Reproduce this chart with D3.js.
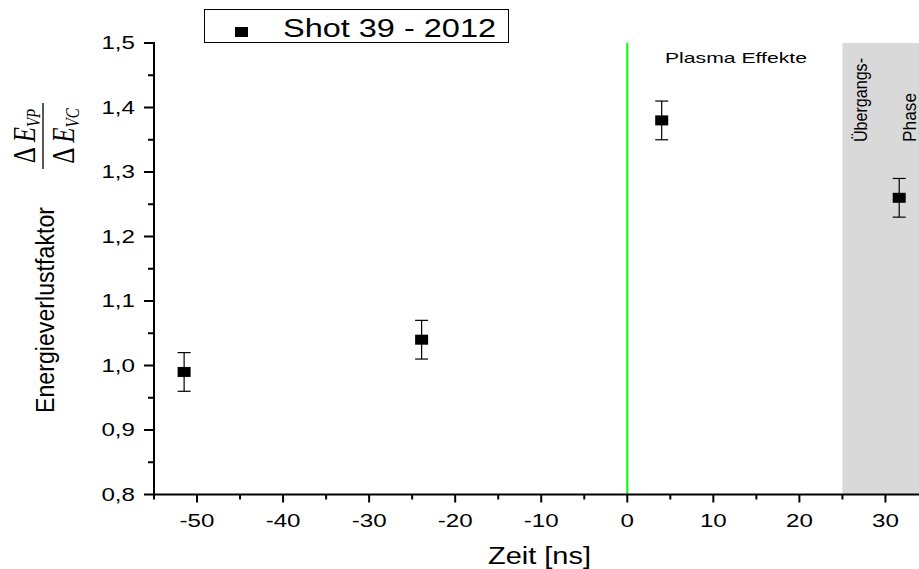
<!DOCTYPE html>
<html><head><meta charset="utf-8">
<script src="https://cdn.jsdelivr.net/npm/d3@7/dist/d3.min.js"></script>
<style>body{margin:0;background:#fff}svg{display:block}</style>
</head><body>
<svg id="c" width="919" height="569"></svg>
<script>
const times = [-51.5, -23.9, 4.0, 31.6];
const values = [0.99, 1.04, 1.38, 1.26];
const errors = [0.03, 0.03, 0.03, 0.03];
const xTicks = [-50, -40, -30, -20, -10, 0, 10, 20, 30];
const xMinorTicks = [-55, -45, -35, -25, -15, -5, 5, 15, 25];
const yTicks = [0.8, 0.9, 1.0, 1.1, 1.2, 1.3, 1.4, 1.5];
const yMinorTicks = [0.85, 0.95, 1.05, 1.15, 1.25, 1.35, 1.45];
const seriesName = "Shot 39 - 2012";
const phaseStart = 25;

const svg = d3.select("#c");
const x = d3.scaleLinear().domain([-55, 33.9]).range([154, 919]);
const y = d3.scaleLinear().domain([0.8, 1.5]).range([494.5, 43]);
const font = "Liberation Sans, Arial, sans-serif";
const SX = 1.38;

// gray phase region
svg.append("rect").attr("x", x(phaseStart)).attr("y", y(1.5))
  .attr("width", x(33.9) - x(phaseStart)).attr("height", y(0.8) - y(1.5))
  .attr("fill", "#d9d9d9");

// green line at 0
svg.append("rect").attr("x", x(0) - 1).attr("y", y(1.5)).attr("width", 2).attr("height", y(0.8) - y(1.5))
  .attr("fill", "#00ff00");

// axes as filled rects
const x0 = x(-55), yb = y(0.8);
const tk = svg.append("g").attr("fill", "#000");
tk.append("rect").attr("x", x0 - 1).attr("y", y(1.5) - 1).attr("width", 2).attr("height", yb - y(1.5) + 2);
tk.append("rect").attr("x", x0 - 1).attr("y", yb - 1).attr("width", 919 - x0 + 1).attr("height", 2);
tk.selectAll(".xt").data(xTicks).join("rect").attr("class", "xt")
  .attr("x", d => x(d) - 1).attr("y", yb).attr("width", 2).attr("height", 8);
tk.selectAll(".xm").data(xMinorTicks).join("rect").attr("class", "xm")
  .attr("x", d => x(d) - 1).attr("y", yb).attr("width", 2).attr("height", 5);
tk.selectAll(".yt").data(yTicks).join("rect").attr("class", "yt")
  .attr("x", x0 - 10).attr("y", d => y(d) - 1).attr("width", 10).attr("height", 2);
tk.selectAll(".ym").data(yMinorTicks).join("rect").attr("class", "ym")
  .attr("x", x0 - 6).attr("y", d => y(d) - 1).attr("width", 6).attr("height", 2);

svg.append("g").selectAll("text").data(xTicks).join("text")
  .attr("transform", d => `translate(${x(d)},527) scale(${SX},1)`)
  .attr("text-anchor", "middle").attr("font-family", font).attr("font-size", 17.5).attr("fill", "#000")
  .text(d => d < 0 ? "-" + Math.abs(d) : String(d));
svg.append("g").selectAll("text").data(yTicks).join("text")
  .attr("transform", d => `translate(135,${y(d) + 6}) scale(${SX},1)`)
  .attr("text-anchor", "end").attr("font-family", font).attr("font-size", 17.5).attr("fill", "#000")
  .text(d => d3.format(".1f")(d).replace(".", ","));

// error bars
const pts = times.map((t, i) => ({t, v: values[i], e: errors[i]}));
const eb = svg.append("g").attr("stroke", "#000").attr("stroke-width", 1.2);
eb.selectAll(".v").data(pts).join("line").attr("class", "v")
  .attr("x1", d => x(d.t)).attr("x2", d => x(d.t)).attr("y1", d => y(d.v - d.e)).attr("y2", d => y(d.v + d.e));
eb.selectAll(".t").data(pts).join("line").attr("class", "t")
  .attr("x1", d => x(d.t) - 6.5).attr("x2", d => x(d.t) + 6.5).attr("y1", d => y(d.v + d.e)).attr("y2", d => y(d.v + d.e));
eb.selectAll(".b").data(pts).join("line").attr("class", "b")
  .attr("x1", d => x(d.t) - 6.5).attr("x2", d => x(d.t) + 6.5).attr("y1", d => y(d.v - d.e)).attr("y2", d => y(d.v - d.e));
svg.append("g").selectAll("rect").data(pts).join("rect")
  .attr("x", d => x(d.t) - 6.5).attr("y", d => y(d.v) - 5).attr("width", 13).attr("height", 10).attr("fill", "#000");

// legend
svg.append("rect").attr("x", 204.5).attr("y", 9.5).attr("width", 304).attr("height", 33)
  .attr("fill", "#fff").attr("stroke", "#000").attr("stroke-width", 1);
svg.append("rect").attr("x", 235).attr("y", 27).attr("width", 13).attr("height", 10).attr("fill", "#000");
svg.append("text").attr("x", 283).attr("y", 37).attr("font-family", font).attr("font-size", 25)
  .attr("textLength", 213).attr("lengthAdjust", "spacingAndGlyphs")
  .attr("fill", "#000").text(seriesName);

// annotations
svg.append("text").attr("x", 665).attr("y", 63).attr("font-family", font).attr("font-size", 15)
  .attr("textLength", 142).attr("lengthAdjust", "spacingAndGlyphs")
  .attr("fill", "#000").text("Plasma Effekte");
svg.append("text").attr("transform", "translate(867,142) scale(1.2,1) rotate(-90)").attr("font-family", font)
  .attr("font-size", 16).attr("textLength", 84).attr("lengthAdjust", "spacingAndGlyphs")
  .attr("fill", "#000").text("Übergangs-");
svg.append("text").attr("transform", "translate(916,142) scale(1.2,1) rotate(-90)").attr("font-family", font)
  .attr("font-size", 16).attr("textLength", 49).attr("lengthAdjust", "spacingAndGlyphs")
  .attr("fill", "#000").text("Phase");

// axis titles
svg.append("text").attr("x", 488).attr("y", 564).attr("font-family", font)
  .attr("font-size", 23).attr("textLength", 103).attr("lengthAdjust", "spacingAndGlyphs")
  .attr("fill", "#000").text("Zeit [ns]");
svg.append("text").attr("transform", `translate(54,310) scale(1.3,1) rotate(-90)`).attr("font-family", font)
  .attr("font-size", 20).attr("textLength", 206).attr("lengthAdjust", "spacingAndGlyphs")
  .attr("fill", "#000").attr("text-anchor", "middle").text("Energieverlustfaktor");

// fraction label
const serif = "Liberation Serif, Times New Roman, serif";
const frac = svg.append("g").attr("transform", `translate(43,136) scale(1.3,1) rotate(-90)`);
frac.append("line").attr("x1", -33).attr("x2", 33).attr("y1", 0).attr("y2", 0).attr("stroke", "#000").attr("stroke-width", 1);
const num = frac.append("text").attr("x", 0).attr("y", -6).attr("text-anchor", "middle")
  .attr("font-family", serif).attr("font-size", 25).attr("fill", "#000");
num.append("tspan").text("Δ ");
num.append("tspan").attr("font-style", "italic").text("E");
num.append("tspan").attr("font-style", "italic").attr("font-size", 15).attr("dy", 4).text("VP");
const den = frac.append("text").attr("x", 0).attr("y", 24).attr("text-anchor", "middle")
  .attr("font-family", serif).attr("font-size", 25).attr("fill", "#000");
den.append("tspan").text("Δ ");
den.append("tspan").attr("font-style", "italic").text("E");
den.append("tspan").attr("font-style", "italic").attr("font-size", 15).attr("dy", 4).text("VC");
</script>
</body></html>
